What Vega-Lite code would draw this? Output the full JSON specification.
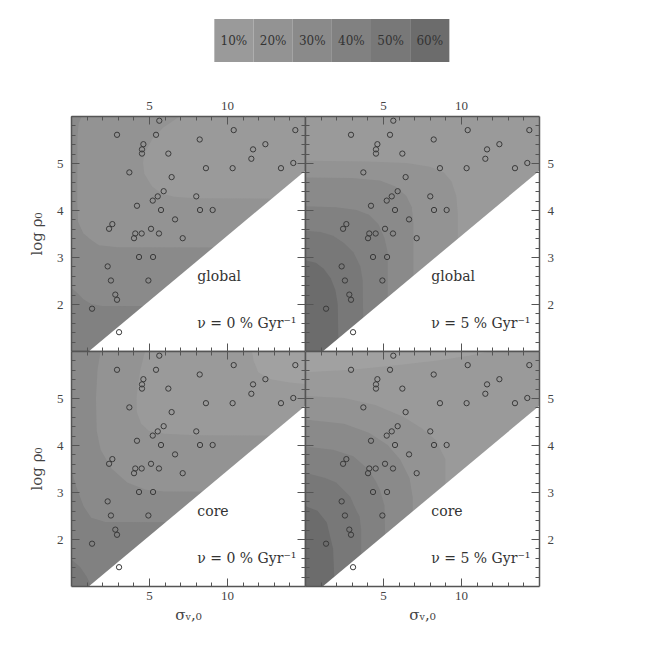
{
  "$schema": "https://vega.github.io/schema/vega-lite/v6.json",
  "padding": {"left": 29, "top": 19, "right": 5, "bottom": 5},
  "background": "white",
  "spacing": 37,
  "config": {
    "view": {"stroke": null},
    "axis": {"grid": false, "labelFont": "Liberation Serif", "labelFontSize": 13, "labelColor": "#444", "titleFont": "DejaVu Serif", "titleFontSize": 15, "titleFontWeight": "normal", "titleColor": "#444", "minExtent": 0, "domainColor": "#555", "domainWidth": 1.5, "tickColor": "#555", "tickWidth": 1}
  },
  "datasets": {
    "leg": [
      {"k": "10%", "v": 10, "l": 1}, {"k": "20%", "v": 20, "l": 2}, {"k": "30%", "v": 30, "l": 3},
      {"k": "40%", "v": 40, "l": 4}, {"k": "50%", "v": 50, "l": 5}, {"k": "60%", "v": 60, "l": 6}
    ],
    "pts": [
      {"s": 5.66, "r": 5.9}, {"s": 2.95, "r": 5.6}, {"s": 5.45, "r": 5.6}, {"s": 10.43, "r": 5.7}, {"s": 14.38, "r": 5.7},
      {"s": 8.25, "r": 5.5}, {"s": 4.64, "r": 5.4}, {"s": 4.55, "r": 5.29}, {"s": 4.55, "r": 5.2}, {"s": 12.46, "r": 5.4},
      {"s": 11.67, "r": 5.29}, {"s": 11.56, "r": 5.09}, {"s": 6.24, "r": 5.2}, {"s": 14.25, "r": 5.0}, {"s": 8.65, "r": 4.89},
      {"s": 10.36, "r": 4.89}, {"s": 13.46, "r": 4.89}, {"s": 3.74, "r": 4.8}, {"s": 6.45, "r": 4.7}, {"s": 5.94, "r": 4.4},
      {"s": 5.56, "r": 4.29}, {"s": 5.24, "r": 4.2}, {"s": 8.03, "r": 4.29}, {"s": 4.23, "r": 4.09}, {"s": 5.77, "r": 4.0},
      {"s": 8.27, "r": 4.0}, {"s": 9.08, "r": 4.0}, {"s": 6.67, "r": 3.8}, {"s": 2.65, "r": 3.7}, {"s": 2.44, "r": 3.6},
      {"s": 5.13, "r": 3.6}, {"s": 4.12, "r": 3.5}, {"s": 4.53, "r": 3.5}, {"s": 4.04, "r": 3.4}, {"s": 5.64, "r": 3.5},
      {"s": 7.16, "r": 3.4}, {"s": 4.36, "r": 3.0}, {"s": 5.26, "r": 3.0}, {"s": 2.35, "r": 2.8}, {"s": 2.56, "r": 2.5},
      {"s": 4.96, "r": 2.5}, {"s": 2.84, "r": 2.2}, {"s": 2.95, "r": 2.09}, {"s": 1.35, "r": 1.9}, {"s": 3.08, "r": 1.4}
    ],
    "edge": [
      {"x": 1.17, "y": 1.0}, {"x": 15, "y": 4.83}
    ],
    "cont": [
      {"p": "TL", "l": 4, "y": 1, "a": 0, "b": 15}, {"p": "TL", "l": 4, "y": 6, "a": 0, "b": 15},
      {"p": "TL", "l": 3, "y": 1.95, "a": 15, "b": 15}, {"p": "TL", "l": 3, "y": 1.96, "a": 2.0, "b": 15}, {"p": "TL", "l": 3, "y": 2.0, "a": 1.3, "b": 15}, {"p": "TL", "l": 3, "y": 2.1, "a": 0.8, "b": 15}, {"p": "TL", "l": 3, "y": 2.25, "a": 0.35, "b": 15}, {"p": "TL", "l": 3, "y": 2.35, "a": 0, "b": 15}, {"p": "TL", "l": 3, "y": 6, "a": 0, "b": 15},
      {"p": "TL", "l": 2, "y": 3.2, "a": 15, "b": 15}, {"p": "TL", "l": 2, "y": 3.21, "a": 3, "b": 15}, {"p": "TL", "l": 2, "y": 3.25, "a": 1.8, "b": 15}, {"p": "TL", "l": 2, "y": 3.36, "a": 1.3, "b": 15}, {"p": "TL", "l": 2, "y": 3.5, "a": 0.8, "b": 15}, {"p": "TL", "l": 2, "y": 3.75, "a": 0.45, "b": 15}, {"p": "TL", "l": 2, "y": 4.2, "a": 0.4, "b": 15}, {"p": "TL", "l": 2, "y": 5.6, "a": 0.42, "b": 15}, {"p": "TL", "l": 2, "y": 5.85, "a": 0.5, "b": 15}, {"p": "TL", "l": 2, "y": 6.0, "a": 0.7, "b": 15},
      {"p": "TL", "l": 1, "y": 4.24, "a": 15, "b": 15}, {"p": "TL", "l": 1, "y": 4.25, "a": 8, "b": 15}, {"p": "TL", "l": 1, "y": 4.28, "a": 6.6, "b": 15}, {"p": "TL", "l": 1, "y": 4.35, "a": 5.8, "b": 15}, {"p": "TL", "l": 1, "y": 4.5, "a": 5.2, "b": 15}, {"p": "TL", "l": 1, "y": 4.77, "a": 4.7, "b": 15}, {"p": "TL", "l": 1, "y": 5.0, "a": 4.62, "b": 15}, {"p": "TL", "l": 1, "y": 5.2, "a": 4.7, "b": 15}, {"p": "TL", "l": 1, "y": 5.5, "a": 5.2, "b": 15}, {"p": "TL", "l": 1, "y": 5.75, "a": 5.9, "b": 15}, {"p": "TL", "l": 1, "y": 6.0, "a": 7.0, "b": 15},

      {"p": "TR", "l": 1, "y": 1, "a": 0, "b": 15}, {"p": "TR", "l": 1, "y": 6, "a": 0, "b": 15},
      {"p": "TR", "l": 2, "y": 1, "a": 0, "b": 9.8}, {"p": "TR", "l": 2, "y": 3.9, "a": 0, "b": 9.8}, {"p": "TR", "l": 2, "y": 4.3, "a": 0, "b": 9.7}, {"p": "TR", "l": 2, "y": 4.6, "a": 0, "b": 9.4}, {"p": "TR", "l": 2, "y": 4.8, "a": 0, "b": 8.9}, {"p": "TR", "l": 2, "y": 4.92, "a": 0, "b": 8.0}, {"p": "TR", "l": 2, "y": 5.0, "a": 0, "b": 6.5}, {"p": "TR", "l": 2, "y": 5.03, "a": 0, "b": 4}, {"p": "TR", "l": 2, "y": 5.05, "a": 0, "b": 0},
      {"p": "TR", "l": 3, "y": 1, "a": 0, "b": 6.95}, {"p": "TR", "l": 3, "y": 3.7, "a": 0, "b": 6.95}, {"p": "TR", "l": 3, "y": 4.06, "a": 0, "b": 6.85}, {"p": "TR", "l": 3, "y": 4.3, "a": 0, "b": 6.5}, {"p": "TR", "l": 3, "y": 4.5, "a": 0, "b": 5.8}, {"p": "TR", "l": 3, "y": 4.63, "a": 0, "b": 4.8}, {"p": "TR", "l": 3, "y": 4.68, "a": 0, "b": 3}, {"p": "TR", "l": 3, "y": 4.69, "a": 0, "b": 0},
      {"p": "TR", "l": 4, "y": 1, "a": 0, "b": 5.3}, {"p": "TR", "l": 4, "y": 3.1, "a": 0, "b": 5.3}, {"p": "TR", "l": 4, "y": 3.4, "a": 0, "b": 5.1}, {"p": "TR", "l": 4, "y": 3.7, "a": 0, "b": 4.7}, {"p": "TR", "l": 4, "y": 3.9, "a": 0, "b": 4.1}, {"p": "TR", "l": 4, "y": 4.0, "a": 0, "b": 3.3}, {"p": "TR", "l": 4, "y": 4.06, "a": 0, "b": 2}, {"p": "TR", "l": 4, "y": 4.08, "a": 0, "b": 0},
      {"p": "TR", "l": 5, "y": 1, "a": 0, "b": 3.75}, {"p": "TR", "l": 5, "y": 2.5, "a": 0, "b": 3.7}, {"p": "TR", "l": 5, "y": 2.8, "a": 0, "b": 3.55}, {"p": "TR", "l": 5, "y": 3.1, "a": 0, "b": 3.1}, {"p": "TR", "l": 5, "y": 3.3, "a": 0, "b": 2.5}, {"p": "TR", "l": 5, "y": 3.45, "a": 0, "b": 1.8}, {"p": "TR", "l": 5, "y": 3.53, "a": 0, "b": 1.0}, {"p": "TR", "l": 5, "y": 3.56, "a": 0, "b": 0},
      {"p": "TR", "l": 6, "y": 1, "a": 0, "b": 2.15}, {"p": "TR", "l": 6, "y": 2.0, "a": 0, "b": 2.1}, {"p": "TR", "l": 6, "y": 2.3, "a": 0, "b": 1.95}, {"p": "TR", "l": 6, "y": 2.55, "a": 0, "b": 1.65}, {"p": "TR", "l": 6, "y": 2.75, "a": 0, "b": 1.2}, {"p": "TR", "l": 6, "y": 2.88, "a": 0, "b": 0.7}, {"p": "TR", "l": 6, "y": 2.93, "a": 0, "b": 0},

      {"p": "BL", "l": 5, "y": 1, "a": 0, "b": 15}, {"p": "BL", "l": 5, "y": 6, "a": 0, "b": 15},
      {"p": "BL", "l": 4, "y": 1.0, "a": 1.3, "b": 15}, {"p": "BL", "l": 4, "y": 1.2, "a": 1.0, "b": 15}, {"p": "BL", "l": 4, "y": 1.4, "a": 0.6, "b": 15}, {"p": "BL", "l": 4, "y": 1.57, "a": 0, "b": 15}, {"p": "BL", "l": 4, "y": 6, "a": 0, "b": 15},
      {"p": "BL", "l": 3, "y": 2.35, "a": 15, "b": 15}, {"p": "BL", "l": 3, "y": 2.36, "a": 2.2, "b": 15}, {"p": "BL", "l": 3, "y": 2.45, "a": 1.3, "b": 15}, {"p": "BL", "l": 3, "y": 2.7, "a": 0.8, "b": 15}, {"p": "BL", "l": 3, "y": 3.1, "a": 0.35, "b": 15}, {"p": "BL", "l": 3, "y": 3.5, "a": 0, "b": 15}, {"p": "BL", "l": 3, "y": 6, "a": 0, "b": 15},
      {"p": "BL", "l": 2, "y": 3.0, "a": 15, "b": 15}, {"p": "BL", "l": 2, "y": 3.01, "a": 6, "b": 15}, {"p": "BL", "l": 2, "y": 3.05, "a": 4.8, "b": 15}, {"p": "BL", "l": 2, "y": 3.2, "a": 3.6, "b": 15}, {"p": "BL", "l": 2, "y": 3.5, "a": 2.6, "b": 15}, {"p": "BL", "l": 2, "y": 3.9, "a": 1.9, "b": 15}, {"p": "BL", "l": 2, "y": 4.3, "a": 1.65, "b": 15}, {"p": "BL", "l": 2, "y": 5.0, "a": 1.6, "b": 15}, {"p": "BL", "l": 2, "y": 5.6, "a": 1.7, "b": 15}, {"p": "BL", "l": 2, "y": 6.0, "a": 1.9, "b": 15},
      {"p": "BL", "l": 1, "y": 4.2, "a": 15, "b": 15}, {"p": "BL", "l": 1, "y": 4.21, "a": 8, "b": 15}, {"p": "BL", "l": 1, "y": 4.24, "a": 6, "b": 15}, {"p": "BL", "l": 1, "y": 4.3, "a": 5.0, "b": 15}, {"p": "BL", "l": 1, "y": 4.45, "a": 4.5, "b": 15}, {"p": "BL", "l": 1, "y": 4.7, "a": 4.22, "b": 15}, {"p": "BL", "l": 1, "y": 5.0, "a": 4.2, "b": 15}, {"p": "BL", "l": 1, "y": 5.3, "a": 4.3, "b": 15}, {"p": "BL", "l": 1, "y": 5.6, "a": 4.45, "b": 15}, {"p": "BL", "l": 1, "y": 6.0, "a": 4.75, "b": 15},
      {"p": "BL", "l": 0, "y": 5.3, "a": 15, "b": 15}, {"p": "BL", "l": 0, "y": 5.33, "a": 14, "b": 15}, {"p": "BL", "l": 0, "y": 5.4, "a": 12.8, "b": 15}, {"p": "BL", "l": 0, "y": 5.55, "a": 12.0, "b": 15}, {"p": "BL", "l": 0, "y": 5.8, "a": 11.7, "b": 15}, {"p": "BL", "l": 0, "y": 6.0, "a": 11.6, "b": 15},

      {"p": "BR", "l": 1, "y": 1, "a": 0, "b": 15}, {"p": "BR", "l": 1, "y": 6, "a": 0, "b": 15},
      {"p": "BR", "l": 0, "y": 5.55, "a": 0, "b": 0}, {"p": "BR", "l": 0, "y": 5.6, "a": 0, "b": 3}, {"p": "BR", "l": 0, "y": 5.7, "a": 0, "b": 6}, {"p": "BR", "l": 0, "y": 5.8, "a": 0, "b": 8.5}, {"p": "BR", "l": 0, "y": 5.9, "a": 0, "b": 10.5}, {"p": "BR", "l": 0, "y": 6.0, "a": 0, "b": 12},
      {"p": "BR", "l": 2, "y": 1, "a": 0, "b": 9.0}, {"p": "BR", "l": 2, "y": 3.69, "a": 0, "b": 9.0}, {"p": "BR", "l": 2, "y": 4.1, "a": 0, "b": 8.4}, {"p": "BR", "l": 2, "y": 4.35, "a": 0, "b": 7.5}, {"p": "BR", "l": 2, "y": 4.6, "a": 0, "b": 6.3}, {"p": "BR", "l": 2, "y": 4.85, "a": 0, "b": 4.5}, {"p": "BR", "l": 2, "y": 5.0, "a": 0, "b": 2.5}, {"p": "BR", "l": 2, "y": 5.04, "a": 0, "b": 0},
      {"p": "BR", "l": 3, "y": 1, "a": 0, "b": 6.9}, {"p": "BR", "l": 3, "y": 2.9, "a": 0, "b": 6.9}, {"p": "BR", "l": 3, "y": 3.3, "a": 0, "b": 6.7}, {"p": "BR", "l": 3, "y": 3.69, "a": 0, "b": 6.1}, {"p": "BR", "l": 3, "y": 4.0, "a": 0, "b": 5.3}, {"p": "BR", "l": 3, "y": 4.26, "a": 0, "b": 4.1}, {"p": "BR", "l": 3, "y": 4.45, "a": 0, "b": 2.5}, {"p": "BR", "l": 3, "y": 4.54, "a": 0, "b": 0},
      {"p": "BR", "l": 4, "y": 1, "a": 0, "b": 5.2}, {"p": "BR", "l": 4, "y": 2.7, "a": 0, "b": 5.1}, {"p": "BR", "l": 4, "y": 3.05, "a": 0, "b": 4.8}, {"p": "BR", "l": 4, "y": 3.25, "a": 0, "b": 4.5}, {"p": "BR", "l": 4, "y": 3.5, "a": 0, "b": 4.0}, {"p": "BR", "l": 4, "y": 3.76, "a": 0, "b": 3.1}, {"p": "BR", "l": 4, "y": 3.9, "a": 0, "b": 1.8}, {"p": "BR", "l": 4, "y": 3.97, "a": 0, "b": 0},
      {"p": "BR", "l": 5, "y": 1, "a": 0, "b": 3.6}, {"p": "BR", "l": 5, "y": 2.2, "a": 0, "b": 3.6}, {"p": "BR", "l": 5, "y": 2.48, "a": 0, "b": 3.5}, {"p": "BR", "l": 5, "y": 2.6, "a": 0, "b": 3.3}, {"p": "BR", "l": 5, "y": 2.9, "a": 0, "b": 2.9}, {"p": "BR", "l": 5, "y": 3.2, "a": 0, "b": 2.0}, {"p": "BR", "l": 5, "y": 3.3, "a": 0, "b": 1.3}, {"p": "BR", "l": 5, "y": 3.41, "a": 0, "b": 0},
      {"p": "BR", "l": 6, "y": 1, "a": 0, "b": 1.9}, {"p": "BR", "l": 6, "y": 1.8, "a": 0, "b": 1.8}, {"p": "BR", "l": 6, "y": 2.07, "a": 0, "b": 1.6}, {"p": "BR", "l": 6, "y": 2.35, "a": 0, "b": 1.4}, {"p": "BR", "l": 6, "y": 2.6, "a": 0, "b": 0.8}, {"p": "BR", "l": 6, "y": 2.7, "a": 0, "b": 0}
    ]
  },
  "vconcat": [
    {
      "width": 470,
      "height": 43,
      "data": {"name": "leg"},
      "layer": [
        {
          "mark": {"type": "rect", "width": 39.2},
          "encoding": {
            "x": {"field": "v", "type": "quantitative", "scale": {"domain": [-31.6, 88.4], "nice": false, "zero": false}, "axis": null},
            "color": {"field": "l", "type": "ordinal", "scale": {"domain": [0, 1, 2, 3, 4, 5, 6], "range": ["#a1a1a1", "#9a9a9a", "#939393", "#8a8a8a", "#818181", "#787878", "#6c6c6c"]}, "legend": null}
          }
        },
        {
          "mark": {"type": "text", "font": "DejaVu Serif", "fontSize": 12, "color": "#333"},
          "encoding": {
            "x": {"field": "v", "type": "quantitative", "scale": {"domain": [-31.6, 88.4], "nice": false, "zero": false}, "axis": null},
            "text": {"field": "k"}
          }
        }
      ]
    },
    {
      "columns": 2,
      "spacing": 0,
      "bounds": "flush",
      "concat": [
        {
          "width": 234, "height": 235,
          "resolve": {"axis": {"x": "independent", "y": "independent"}},
          "layer": [
            {
              "data": {"name": "cont"},
              "transform": [{"filter": {"field": "p", "equal": "TL"}}],
              "mark": {"type": "area", "orient": "horizontal"},
              "encoding": {
                "y": {"field": "y", "type": "quantitative", "scale": {"domain": [1, 6], "nice": false, "zero": false}, "axis": {"orient": "left", "values": [2, 3, 4, 5], "tickSize": -8, "labelPadding": 16, "title": "log ρ₀", "titlePadding": 12, "zindex": 1}},
                "x": {"field": "a", "type": "quantitative", "scale": {"domain": [0, 15], "nice": false, "zero": false}, "axis": {"orient": "bottom", "values": [5, 10], "tickSize": -8, "labels": false, "title": null, "zindex": 1}},
                "x2": {"field": "b"},
                "color": {"field": "l", "type": "ordinal", "legend": null}
              }
            },
            {
              "data": {"name": "edge"},
              "mark": {"type": "area", "color": "white"},
              "encoding": {
                "x": {"field": "x", "type": "quantitative", "scale": {"domain": [0, 15], "nice": false, "zero": false}, "axis": {"orient": "top", "values": [5, 10], "tickSize": -8, "labelPadding": 12, "title": null, "zindex": 1}},
                "y": {"field": "y", "type": "quantitative", "scale": {"domain": [1, 6], "nice": false, "zero": false}, "axis": {"orient": "right", "values": [2, 3, 4, 5], "tickSize": -8, "labels": false, "title": null, "zindex": 1}},
                "y2": {"datum": 1}
              }
            },
            {
              "data": {"name": "pts"},
              "mark": {"type": "point", "shape": "circle", "filled": false, "size": 28, "strokeWidth": 1, "color": "#3a3a3a", "opacity": 1},
              "encoding": {
                "x": {"field": "s", "type": "quantitative", "scale": {"domain": [0, 15], "nice": false, "zero": false}, "axis": {"orient": "bottom", "values": [1, 2, 3, 4, 6, 7, 8, 9, 11, 12, 13, 14], "tickSize": -4, "labels": false, "domain": false, "title": null, "zindex": 1}},
                "y": {"field": "r", "type": "quantitative", "scale": {"domain": [1, 6], "nice": false, "zero": false}, "axis": {"orient": "left", "values": [1.2, 1.4, 1.6, 1.8, 2.2, 2.4, 2.6, 2.8, 3.2, 3.4, 3.6, 3.8, 4.2, 4.4, 4.6, 4.8, 5.2, 5.4, 5.6, 5.8], "tickSize": -4, "labels": false, "domain": false, "title": null, "zindex": 1}}
              }
            },
            {
              "data": {"values": [{}]},
              "mark": {"type": "text", "text": "global", "font": "DejaVu Serif", "fontSize": 14, "color": "#333", "align": "left", "baseline": "middle"},
              "encoding": {
                "x": {"datum": 8.1, "type": "quantitative", "scale": {"domain": [0, 15], "nice": false, "zero": false}, "axis": {"orient": "top", "values": [1, 2, 3, 4, 6, 7, 8, 9, 11, 12, 13, 14], "tickSize": -4, "labels": false, "domain": false, "title": null, "zindex": 1}},
                "y": {"datum": 2.57, "type": "quantitative", "scale": {"domain": [1, 6], "nice": false, "zero": false}, "axis": {"orient": "right", "values": [1.2, 1.4, 1.6, 1.8, 2.2, 2.4, 2.6, 2.8, 3.2, 3.4, 3.6, 3.8, 4.2, 4.4, 4.6, 4.8, 5.2, 5.4, 5.6, 5.8], "tickSize": -4, "labels": false, "domain": false, "title": null, "zindex": 1}}
              }
            },
            {
              "data": {"values": [{}]},
              "mark": {"type": "text", "text": "ν = 0 % Gyr⁻¹", "font": "DejaVu Serif", "fontSize": 14, "color": "#333", "align": "left", "baseline": "middle"},
              "encoding": {
                "x": {"datum": 8.1, "type": "quantitative", "axis": null},
                "y": {"datum": 1.58, "type": "quantitative", "axis": null}
              }
            }
          ]
        },
        {
          "width": 234, "height": 235,
          "resolve": {"axis": {"x": "independent", "y": "independent"}},
          "layer": [
            {
              "data": {"name": "cont"},
              "transform": [{"filter": {"field": "p", "equal": "TR"}}],
              "mark": {"type": "area", "orient": "horizontal"},
              "encoding": {
                "y": {"field": "y", "type": "quantitative", "scale": {"domain": [1, 6], "nice": false, "zero": false}, "axis": {"orient": "left", "values": [2, 3, 4, 5], "tickSize": -8, "labels": false, "title": null, "zindex": 1}},
                "x": {"field": "a", "type": "quantitative", "scale": {"domain": [0, 15], "nice": false, "zero": false}, "axis": {"orient": "bottom", "values": [5, 10], "tickSize": -8, "labels": false, "title": null, "zindex": 1}},
                "x2": {"field": "b"},
                "color": {"field": "l", "type": "ordinal", "legend": null}
              }
            },
            {
              "data": {"name": "edge"},
              "mark": {"type": "area", "color": "white"},
              "encoding": {
                "x": {"field": "x", "type": "quantitative", "scale": {"domain": [0, 15], "nice": false, "zero": false}, "axis": {"orient": "top", "values": [5, 10], "tickSize": -8, "labelPadding": 12, "title": null, "zindex": 1}},
                "y": {"field": "y", "type": "quantitative", "scale": {"domain": [1, 6], "nice": false, "zero": false}, "axis": {"orient": "right", "values": [2, 3, 4, 5], "tickSize": -8, "labelPadding": 16, "title": null, "zindex": 1}},
                "y2": {"datum": 1}
              }
            },
            {
              "data": {"name": "pts"},
              "mark": {"type": "point", "shape": "circle", "filled": false, "size": 28, "strokeWidth": 1, "color": "#3a3a3a", "opacity": 1},
              "encoding": {
                "x": {"field": "s", "type": "quantitative", "scale": {"domain": [0, 15], "nice": false, "zero": false}, "axis": {"orient": "bottom", "values": [1, 2, 3, 4, 6, 7, 8, 9, 11, 12, 13, 14], "tickSize": -4, "labels": false, "domain": false, "title": null, "zindex": 1}},
                "y": {"field": "r", "type": "quantitative", "scale": {"domain": [1, 6], "nice": false, "zero": false}, "axis": {"orient": "left", "values": [1.2, 1.4, 1.6, 1.8, 2.2, 2.4, 2.6, 2.8, 3.2, 3.4, 3.6, 3.8, 4.2, 4.4, 4.6, 4.8, 5.2, 5.4, 5.6, 5.8], "tickSize": -4, "labels": false, "domain": false, "title": null, "zindex": 1}}
              }
            },
            {
              "data": {"values": [{}]},
              "mark": {"type": "text", "text": "global", "font": "DejaVu Serif", "fontSize": 14, "color": "#333", "align": "left", "baseline": "middle"},
              "encoding": {
                "x": {"datum": 8.1, "type": "quantitative", "scale": {"domain": [0, 15], "nice": false, "zero": false}, "axis": {"orient": "top", "values": [1, 2, 3, 4, 6, 7, 8, 9, 11, 12, 13, 14], "tickSize": -4, "labels": false, "domain": false, "title": null, "zindex": 1}},
                "y": {"datum": 2.57, "type": "quantitative", "scale": {"domain": [1, 6], "nice": false, "zero": false}, "axis": {"orient": "right", "values": [1.2, 1.4, 1.6, 1.8, 2.2, 2.4, 2.6, 2.8, 3.2, 3.4, 3.6, 3.8, 4.2, 4.4, 4.6, 4.8, 5.2, 5.4, 5.6, 5.8], "tickSize": -4, "labels": false, "domain": false, "title": null, "zindex": 1}}
              }
            },
            {
              "data": {"values": [{}]},
              "mark": {"type": "text", "text": "ν = 5 % Gyr⁻¹", "font": "DejaVu Serif", "fontSize": 14, "color": "#333", "align": "left", "baseline": "middle"},
              "encoding": {
                "x": {"datum": 8.1, "type": "quantitative", "axis": null},
                "y": {"datum": 1.58, "type": "quantitative", "axis": null}
              }
            }
          ]
        },
        {
          "width": 234, "height": 235,
          "resolve": {"axis": {"x": "independent", "y": "independent"}},
          "layer": [
            {
              "data": {"name": "cont"},
              "transform": [{"filter": {"field": "p", "equal": "BL"}}],
              "mark": {"type": "area", "orient": "horizontal"},
              "encoding": {
                "y": {"field": "y", "type": "quantitative", "scale": {"domain": [1, 6], "nice": false, "zero": false}, "axis": {"orient": "left", "values": [2, 3, 4, 5], "tickSize": -8, "labelPadding": 16, "title": "log ρ₀", "titlePadding": 12, "zindex": 1}},
                "x": {"field": "a", "type": "quantitative", "scale": {"domain": [0, 15], "nice": false, "zero": false}, "axis": {"orient": "bottom", "values": [5, 10], "tickSize": -8, "labelPadding": 11, "title": "σᵥ,₀", "titlePadding": 5, "zindex": 1}},
                "x2": {"field": "b"},
                "color": {"field": "l", "type": "ordinal", "legend": null}
              }
            },
            {
              "data": {"name": "edge"},
              "mark": {"type": "area", "color": "white"},
              "encoding": {
                "x": {"field": "x", "type": "quantitative", "scale": {"domain": [0, 15], "nice": false, "zero": false}, "axis": {"orient": "top", "values": [5, 10], "tickSize": -8, "labels": false, "title": null, "zindex": 1}},
                "y": {"field": "y", "type": "quantitative", "scale": {"domain": [1, 6], "nice": false, "zero": false}, "axis": {"orient": "right", "values": [2, 3, 4, 5], "tickSize": -8, "labels": false, "title": null, "zindex": 1}},
                "y2": {"datum": 1}
              }
            },
            {
              "data": {"name": "pts"},
              "mark": {"type": "point", "shape": "circle", "filled": false, "size": 28, "strokeWidth": 1, "color": "#3a3a3a", "opacity": 1},
              "encoding": {
                "x": {"field": "s", "type": "quantitative", "scale": {"domain": [0, 15], "nice": false, "zero": false}, "axis": {"orient": "bottom", "values": [1, 2, 3, 4, 6, 7, 8, 9, 11, 12, 13, 14], "tickSize": -4, "labels": false, "domain": false, "title": null, "zindex": 1}},
                "y": {"field": "r", "type": "quantitative", "scale": {"domain": [1, 6], "nice": false, "zero": false}, "axis": {"orient": "left", "values": [1.2, 1.4, 1.6, 1.8, 2.2, 2.4, 2.6, 2.8, 3.2, 3.4, 3.6, 3.8, 4.2, 4.4, 4.6, 4.8, 5.2, 5.4, 5.6, 5.8], "tickSize": -4, "labels": false, "domain": false, "title": null, "zindex": 1}}
              }
            },
            {
              "data": {"values": [{}]},
              "mark": {"type": "text", "text": "core", "font": "DejaVu Serif", "fontSize": 14, "color": "#333", "align": "left", "baseline": "middle"},
              "encoding": {
                "x": {"datum": 8.1, "type": "quantitative", "scale": {"domain": [0, 15], "nice": false, "zero": false}, "axis": {"orient": "top", "values": [1, 2, 3, 4, 6, 7, 8, 9, 11, 12, 13, 14], "tickSize": -4, "labels": false, "domain": false, "title": null, "zindex": 1}},
                "y": {"datum": 2.57, "type": "quantitative", "scale": {"domain": [1, 6], "nice": false, "zero": false}, "axis": {"orient": "right", "values": [1.2, 1.4, 1.6, 1.8, 2.2, 2.4, 2.6, 2.8, 3.2, 3.4, 3.6, 3.8, 4.2, 4.4, 4.6, 4.8, 5.2, 5.4, 5.6, 5.8], "tickSize": -4, "labels": false, "domain": false, "title": null, "zindex": 1}}
              }
            },
            {
              "data": {"values": [{}]},
              "mark": {"type": "text", "text": "ν = 0 % Gyr⁻¹", "font": "DejaVu Serif", "fontSize": 14, "color": "#333", "align": "left", "baseline": "middle"},
              "encoding": {
                "x": {"datum": 8.1, "type": "quantitative", "axis": null},
                "y": {"datum": 1.58, "type": "quantitative", "axis": null}
              }
            }
          ]
        },
        {
          "width": 234, "height": 235,
          "resolve": {"axis": {"x": "independent", "y": "independent"}},
          "layer": [
            {
              "data": {"name": "cont"},
              "transform": [{"filter": {"field": "p", "equal": "BR"}}],
              "mark": {"type": "area", "orient": "horizontal"},
              "encoding": {
                "y": {"field": "y", "type": "quantitative", "scale": {"domain": [1, 6], "nice": false, "zero": false}, "axis": {"orient": "left", "values": [2, 3, 4, 5], "tickSize": -8, "labels": false, "title": null, "zindex": 1}},
                "x": {"field": "a", "type": "quantitative", "scale": {"domain": [0, 15], "nice": false, "zero": false}, "axis": {"orient": "bottom", "values": [5, 10], "tickSize": -8, "labelPadding": 11, "title": "σᵥ,₀", "titlePadding": 5, "zindex": 1}},
                "x2": {"field": "b"},
                "color": {"field": "l", "type": "ordinal", "legend": null}
              }
            },
            {
              "data": {"name": "edge"},
              "mark": {"type": "area", "color": "white"},
              "encoding": {
                "x": {"field": "x", "type": "quantitative", "scale": {"domain": [0, 15], "nice": false, "zero": false}, "axis": {"orient": "top", "values": [5, 10], "tickSize": -8, "labels": false, "title": null, "zindex": 1}},
                "y": {"field": "y", "type": "quantitative", "scale": {"domain": [1, 6], "nice": false, "zero": false}, "axis": {"orient": "right", "values": [2, 3, 4, 5], "tickSize": -8, "labelPadding": 16, "title": null, "zindex": 1}},
                "y2": {"datum": 1}
              }
            },
            {
              "data": {"name": "pts"},
              "mark": {"type": "point", "shape": "circle", "filled": false, "size": 28, "strokeWidth": 1, "color": "#3a3a3a", "opacity": 1},
              "encoding": {
                "x": {"field": "s", "type": "quantitative", "scale": {"domain": [0, 15], "nice": false, "zero": false}, "axis": {"orient": "bottom", "values": [1, 2, 3, 4, 6, 7, 8, 9, 11, 12, 13, 14], "tickSize": -4, "labels": false, "domain": false, "title": null, "zindex": 1}},
                "y": {"field": "r", "type": "quantitative", "scale": {"domain": [1, 6], "nice": false, "zero": false}, "axis": {"orient": "left", "values": [1.2, 1.4, 1.6, 1.8, 2.2, 2.4, 2.6, 2.8, 3.2, 3.4, 3.6, 3.8, 4.2, 4.4, 4.6, 4.8, 5.2, 5.4, 5.6, 5.8], "tickSize": -4, "labels": false, "domain": false, "title": null, "zindex": 1}}
              }
            },
            {
              "data": {"values": [{}]},
              "mark": {"type": "text", "text": "core", "font": "DejaVu Serif", "fontSize": 14, "color": "#333", "align": "left", "baseline": "middle"},
              "encoding": {
                "x": {"datum": 8.1, "type": "quantitative", "scale": {"domain": [0, 15], "nice": false, "zero": false}, "axis": {"orient": "top", "values": [1, 2, 3, 4, 6, 7, 8, 9, 11, 12, 13, 14], "tickSize": -4, "labels": false, "domain": false, "title": null, "zindex": 1}},
                "y": {"datum": 2.57, "type": "quantitative", "scale": {"domain": [1, 6], "nice": false, "zero": false}, "axis": {"orient": "right", "values": [1.2, 1.4, 1.6, 1.8, 2.2, 2.4, 2.6, 2.8, 3.2, 3.4, 3.6, 3.8, 4.2, 4.4, 4.6, 4.8, 5.2, 5.4, 5.6, 5.8], "tickSize": -4, "labels": false, "domain": false, "title": null, "zindex": 1}}
              }
            },
            {
              "data": {"values": [{}]},
              "mark": {"type": "text", "text": "ν = 5 % Gyr⁻¹", "font": "DejaVu Serif", "fontSize": 14, "color": "#333", "align": "left", "baseline": "middle"},
              "encoding": {
                "x": {"datum": 8.1, "type": "quantitative", "axis": null},
                "y": {"datum": 1.58, "type": "quantitative", "axis": null}
              }
            }
          ]
        }
      ]
    }
  ]
}
